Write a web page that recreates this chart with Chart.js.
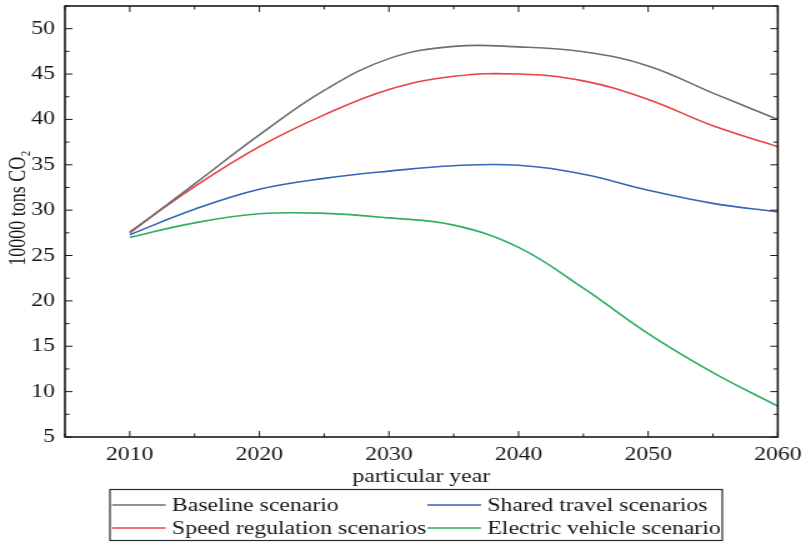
<!DOCTYPE html>
<html>
<head>
<meta charset="utf-8">
<script src="https://cdn.jsdelivr.net/npm/chart.js@4"></script>
<style>
    body { margin: 0; background: #fff; overflow: hidden; }
    /* the reference is drawn wide, so the canvas is stretched sideways */
    #wrap { width: 645px; height: 543px; transform: scaleX(1.2496); transform-origin: 0 0; }
</style>
</head>
<body>
<div id="wrap"><canvas id="ch" width="645" height="543"></canvas></div>
<script>
    const years = [2010, 2015, 2020, 2025, 2030, 2035, 2040, 2045, 2050, 2055, 2060];
    const baseline = [27.5, 32.9, 38.3, 43.2, 46.7, 48.05, 48.0, 47.45, 45.9, 42.9, 40.0];
    const speedReg = [27.6, 32.6, 37.0, 40.5, 43.3, 44.75, 45.0, 44.25, 42.2, 39.3, 37.0];
    const shared = [27.3, 30.1, 32.3, 33.5, 34.3, 34.9, 34.95, 33.95, 32.2, 30.75, 29.8];
    const electric = [27.0, 28.6, 29.6, 29.65, 29.15, 28.35, 25.9, 21.4, 16.4, 12.1, 8.4];
    const seriesNames = ['Baseline scenario', 'Speed regulation scenarios', 'Shared travel scenarios', 'Electric vehicle scenario'];
    const seriesColors = ['#6e6e6e', '#e84343', '#3465b6', '#30ad62'];

    Chart.defaults.font.family = '"Liberation Serif", "Times New Roman", serif';
    Chart.defaults.font.size = 19;
    Chart.defaults.color = '#151515';

    // box frame with inward ticks on all four sides
    const frameTicks = {
        id: 'frameTicks',
        afterDatasetsDraw(chart) {
            const { ctx, chartArea: a, scales: { x, y } } = chart;
            ctx.save();
            ctx.strokeStyle = '#1a1a1a';
            ctx.lineWidth = 1;
            ctx.beginPath();
            for (let v = x.min; v <= x.max; v += 5) {
                const px = x.getPixelForValue(v);
                const len = v % 10 === 0 ? 6 : 3.5;
                ctx.moveTo(px, a.bottom); ctx.lineTo(px, a.bottom - len);
                ctx.moveTo(px, a.top); ctx.lineTo(px, a.top + len);
            }
            for (let v = y.min; v <= y.max; v += 2.5) {
                const py = y.getPixelForValue(v);
                const len = v % 5 === 0 ? 6 : 3.5;
                ctx.moveTo(a.left, py); ctx.lineTo(a.left + len, py);
                ctx.moveTo(a.right, py); ctx.lineTo(a.right - len, py);
            }
            ctx.stroke();
            ctx.lineWidth = 1.6;
            ctx.strokeRect(a.left, a.top, a.right - a.left, a.bottom - a.top);
            ctx.restore();
        }
    };

    // two-column legend in a box under the axis title
    const boxLegend = {
        id: 'boxLegend',
        afterDraw(chart) {
            const { ctx, chartArea: a } = chart;
            const top = a.bottom + 52;
            ctx.save();
            ctx.strokeStyle = '#2a2a2a';
            ctx.lineWidth = 1.2;
            ctx.strokeRect(88, top + 0.5, 490, 51);
            ctx.font = '19px "Liberation Serif", "Times New Roman", serif';
            ctx.fillStyle = '#151515';
            ctx.textBaseline = 'middle';
            const cols = [89.6, 342];
            chart.data.datasets.forEach((ds, i) => {
                const x0 = cols[Math.floor(i / 2)];
                const yy = top + 16 + (i % 2) * 23;
                ctx.strokeStyle = ds.borderColor;
                ctx.lineWidth = 1.6;
                ctx.beginPath();
                ctx.moveTo(x0, yy); ctx.lineTo(x0 + 43, yy);
                ctx.stroke();
                ctx.fillText(ds.label, x0 + 48, yy + 1);
            });
            ctx.restore();
        }
    };

    const seriesData = [baseline, speedReg, shared, electric];

    new Chart('ch', {
        type: 'line',
        data: {
            labels: years,
            datasets: seriesData.map((d, i) => ({
                label: seriesNames[i],
                data: d,
                borderColor: seriesColors[i],
                borderWidth: 1.6,
                pointRadius: 0,
                tension: 0.4,
                fill: false
            }))
        },
        options: {
            responsive: false,
            animation: false,
            layout: { padding: { top: 6, left: 0, right: 22.6, bottom: 55 } },
            plugins: { legend: { display: false }, tooltip: { enabled: false } },
            scales: {
                x: {
                    type: 'linear',
                    min: 2005,
                    max: 2060,
                    grid: { display: false, drawTicks: false },
                    border: { display: false },
                    ticks: { stepSize: 10, includeBounds: false, padding: 7, maxRotation: 0, callback: v => String(v) },
                    title: { display: true, text: 'particular year', padding: 0 },
                    afterFit: s => { s.height = 51; s.paddingLeft = 0; s.paddingRight = 0; }
                },
                y: {
                    min: 5,
                    max: 52.5,
                    grid: { display: false, drawTicks: false },
                    border: { display: false },
                    ticks: { stepSize: 5, includeBounds: false, padding: 8 },
                    title: { display: true, text: '      10000 tons CO\u2082', font: { size: 18 }, padding: { top: 4, bottom: 0 } },
                    afterFit: s => { s.width = 52; s.paddingTop = 0; s.paddingBottom = 0; }
                }
            }
        },
        plugins: [frameTicks, boxLegend]
    });
</script>
</body>
</html>
